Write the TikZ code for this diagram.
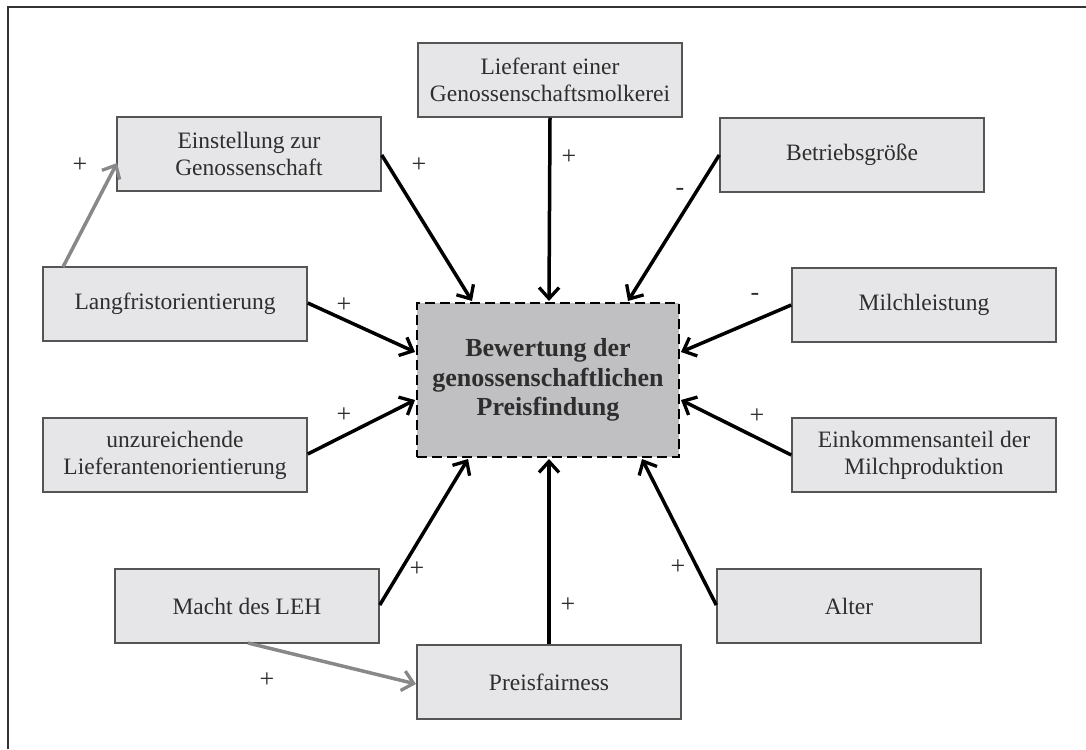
\documentclass[tikz,border=0pt]{standalone}
\usepackage{fontspec}
\setmainfont{Liberation Serif}
\usetikzlibrary{arrows.meta}
\definecolor{boxfill}{HTML}{E6E6E8}
\definecolor{boxline}{HTML}{555555}
\definecolor{centerfill}{HTML}{C0C0C2}
\definecolor{txt}{HTML}{2E2E2E}
\definecolor{grayarrow}{HTML}{888888}
\tikzset{
  factor/.style={draw=boxline, line width=1.5pt, fill=boxfill, text=txt, minimum width=264pt, minimum height=74pt, align=center, font=\fontsize{23.5}{27}\selectfont, inner sep=0pt},
  center/.style={draw=black, dash pattern=on 10pt off 5pt, line width=2.4pt, fill=centerfill, text=txt, minimum width=262pt, minimum height=154pt, align=center, font=\fontsize{26}{29.5}\selectfont\bfseries, inner sep=0pt},
  effect/.style={line width=3.5pt, black, -{Straight Barb[length=11pt,width=20pt,line width=3.3pt]}},
  grayeffect/.style={line width=3.5pt, grayarrow, -{Straight Barb[length=11pt,width=20pt,line width=3.3pt]}},
  sign/.style={text=txt, font=\fontsize{26}{28}\selectfont, inner sep=0pt}
}
\begin{document}
\begin{tikzpicture}[x=1pt,y=-1pt]
\useasboundingbox (0,0) rectangle (1086,749);
\draw[line width=1.6pt, black!80] (8,749) -- (8,7) -- (1086,7);

\node[factor] (ein) at (249,154) {Einstellung zur\\Genossenschaft};
\node[factor] (lief) at (550,80) {Lieferant einer\\Genossenschaftsmolkerei};
\node[factor] (betr) at (852,155) {Betriebsgröße};
\node[factor] (lang) at (175,304) {Langfristorientierung};
\node[factor] (milch) at (924,305) {Milchleistung};
\node[factor] (unz) at (175,455) {unzureichende\\Lieferantenorientierung};
\node[factor] (eink) at (924,455) {Einkommensanteil der\\Milchproduktion};
\node[factor] (macht) at (247,606) {Macht des LEH};
\node[factor] (alter) at (849,606) {Alter};
\node[factor] (preis) at (549,682) {Preisfairness};
\node[center] (bew) at (548,380) {Bewertung der\\genossenschaftlichen\\Preisfindung};

\coordinate (bTop1) at (472,301);
\coordinate (bTop2) at (549,301);
\coordinate (bTop3) at (628,301);
\coordinate (bL1) at (415,352);
\coordinate (bL2) at (415,400);
\coordinate (bR1) at (681,352);
\coordinate (bR2) at (681,400);
\coordinate (bB1) at (468,459);
\coordinate (bB2) at (549,459);
\coordinate (bB3) at (642,459);

\draw[effect] (ein.east |- 0,155) -- (bTop1);
\draw[effect] (lief.south) -- (bTop2);
\draw[effect] (betr.west |- 0,155) -- (bTop3);
\draw[effect] (lang.east |- 0,303) -- (bL1);
\draw[effect] (unz.east |- 0,454) -- (bL2);
\draw[effect] (milch.west |- 0,305) -- (bR1);
\draw[effect] (eink.west |- 0,455) -- (bR2);
\draw[effect] (macht.east |- 0,605) -- (bB1);
\draw[effect] (preis.north) -- (bB2);
\draw[effect] (alter.west |- 0,605) -- (bB3);

\coordinate (langTop) at (63,267);
\coordinate (einLeft) at (117,163);
\coordinate (machtBot) at (248,643);
\coordinate (preisLeft) at (416,684);
\draw[grayeffect] (langTop) -- (einLeft);
\draw[grayeffect] (machtBot) -- (preisLeft);

\node[sign] (s1) at (80,165) {+};
\node[sign] (s2) at (419,165) {+};
\node[sign] (s3) at (569,157) {+};
\node[sign] (s4) at (680,192) {-};
\node[sign] (s5) at (344,305) {+};
\node[sign] (s6) at (755,297) {-};
\node[sign] (s7) at (344,415) {+};
\node[sign] (s8) at (757,416) {+};
\node[sign] (s9) at (417,569) {+};
\node[sign] (s10) at (568,605) {+};
\node[sign] (s11) at (678,567) {+};
\node[sign] (s12) at (267,680) {+};
\end{tikzpicture}
\end{document}
